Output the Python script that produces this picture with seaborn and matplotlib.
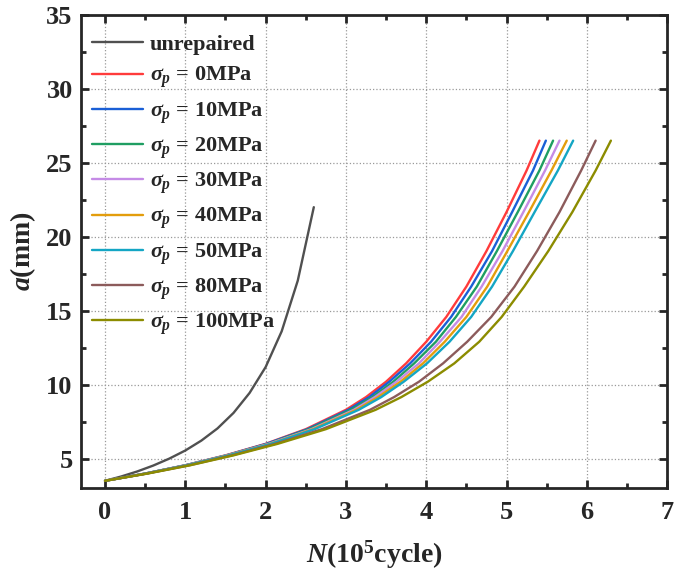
import numpy as np
import pandas as pd
import matplotlib
matplotlib.use("Agg")
import matplotlib.pyplot as plt
import seaborn as sns
from matplotlib.ticker import MultipleLocator

# ---- data ----
# unrepaired specimen
n_unrep = [0, 0.2, 0.4, 0.6, 0.8, 1.0, 1.2, 1.4, 1.6, 1.8, 2.0, 2.2, 2.4, 2.6]
a_unrep = [3.50, 3.79, 4.13, 4.53, 5.00, 5.55, 6.22, 7.04, 8.09, 9.44, 11.19, 13.61, 17.03, 22.00]

# repaired specimens: crack length levels shared by all, cycles per pre-stress
a_grid = [3.50, 3.99, 4.55, 5.22, 6.00, 6.99, 8.30, 9.16, 10.20, 11.44, 12.90,
          14.58, 16.63, 19.03, 21.67, 24.48, 26.50]
n_0mpa = [0, 0.50, 1.00, 1.50, 2.00, 2.50, 3.00, 3.25, 3.50, 3.75, 4.00,
          4.25, 4.50, 4.75, 5.00, 5.25, 5.41]
n_10mpa = [0, 0.50, 1.00, 1.51, 2.01, 2.52, 3.03, 3.29, 3.54, 3.80, 4.06,
           4.31, 4.56, 4.82, 5.07, 5.33, 5.49]
n_20mpa = [0, 0.50, 1.01, 1.52, 2.03, 2.54, 3.06, 3.33, 3.59, 3.85, 4.12,
           4.37, 4.63, 4.88, 5.14, 5.41, 5.58]
n_30mpa = [0, 0.51, 1.01, 1.52, 2.04, 2.57, 3.10, 3.36, 3.63, 3.91, 4.17,
           4.44, 4.69, 4.95, 5.21, 5.48, 5.66]
n_40mpa = [0, 0.51, 1.02, 1.53, 2.06, 2.59, 3.13, 3.40, 3.68, 3.96, 4.23,
           4.50, 4.76, 5.01, 5.28, 5.56, 5.75]
n_50mpa = [0, 0.51, 1.02, 1.54, 2.07, 2.61, 3.16, 3.44, 3.72, 4.01, 4.29,
           4.56, 4.82, 5.08, 5.35, 5.64, 5.83]
n_80mpa = [0, 0.52, 1.05, 1.58, 2.12, 2.70, 3.30, 3.60, 3.91, 4.21, 4.51,
           4.81, 5.10, 5.38, 5.66, 5.93, 6.11]
n_100mpa = [0, 0.53, 1.06, 1.60, 2.15, 2.75, 3.37, 3.69, 4.02, 4.35, 4.66,
            4.94, 5.22, 5.52, 5.82, 6.11, 6.30]

stress_labels = ["0", "10", "20", "30", "40", "50", "80", "100"]
stress_series = [n_0mpa, n_10mpa, n_20mpa, n_30mpa, n_40mpa, n_50mpa, n_80mpa, n_100mpa]

colors = ["#505050", "#ff3b3b", "#1a5fd6", "#1f9e62", "#c58be6",
          "#e39d0c", "#14a6c4", "#8c5b5b", "#8c8c00"]

# ---- build long dataframe ----
rows = []
for n, a in zip(n_unrep, a_unrep):
    rows.append({"N": n, "a": a, "series": "unrepaired"})
for lab, ns in zip(stress_labels, stress_series):
    name = r"$\sigma_p$ = " + lab + "MPa"
    for n, a in zip(ns, a_grid):
        rows.append({"N": n, "a": a, "series": name})
df = pd.DataFrame(rows)
order = list(dict.fromkeys(df["series"]))

# ---- style ----
sns.set_style("ticks")
plt.rcParams["font.family"] = ["Liberation Serif", "DejaVu Serif"]
plt.rcParams["font.weight"] = "bold"
plt.rcParams["mathtext.fontset"] = "custom"
plt.rcParams["mathtext.rm"] = "Liberation Serif:bold"
plt.rcParams["mathtext.it"] = "Liberation Serif:italic"
plt.rcParams["mathtext.bf"] = "Liberation Serif:bold"
plt.rcParams["mathtext.bfit"] = "Liberation Serif:bold:italic"

fig = plt.figure(figsize=(6.92, 5.73), dpi=100)
ax = fig.add_axes([0.117, 0.148, 0.847, 0.826])

sns.lineplot(data=df, x="N", y="a", hue="series", hue_order=order,
             palette=colors, sort=False, estimator=None, linewidth=1.7,
             legend=False, ax=ax)

ax.set_xlim(-0.3, 7)
ax.set_ylim(3, 35)
ax.xaxis.set_major_locator(MultipleLocator(1))
ax.xaxis.set_minor_locator(MultipleLocator(0.5))
ax.yaxis.set_minor_locator(MultipleLocator(2.5))
ax.set_yticks([5, 10, 15, 20, 25, 30, 35])

ax.grid(True, which="major", linestyle=":", color="#999999", linewidth=0.9)
ax.tick_params(which="both", direction="in", top=True, right=True,
               labelsize=19, width=2)
ax.tick_params(which="major", length=6, pad=6)
ax.tick_params(axis="x", which="major", pad=9)
ax.tick_params(which="minor", length=3.5)
for lab in ax.get_xticklabels() + ax.get_yticklabels():
    lab.set_fontweight("bold")
for sp in ax.spines.values():
    sp.set_linewidth(2)
    sp.set_visible(True)

ax.set_xlabel(r"$\mathbfit{N}$(10$^\mathbf{5}$cycle)", fontsize=20,
              fontweight="bold", labelpad=11)
ax.set_ylabel(r"$\mathbfit{a}$(mm)", fontsize=20, fontweight="bold", labelpad=6)

handles = ax.get_lines()[:len(order)]
ax.legend(handles, order, loc="upper left", bbox_to_anchor=(0.011, 0.968),
          frameon=False, handlelength=2.3, handletextpad=0.3,
          labelspacing=0.44, borderaxespad=0.0, borderpad=0.2,
          prop={"weight": "bold", "size": 16})

fig.savefig("out.png", dpi=100)
